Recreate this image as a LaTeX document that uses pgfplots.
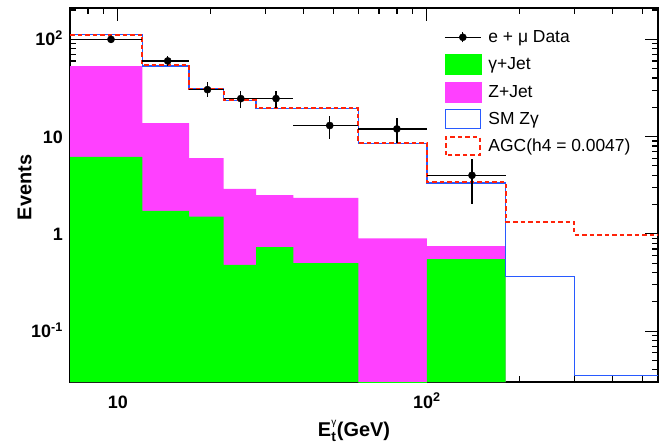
\documentclass[border=0pt]{standalone}
\usepackage{fontspec}
\setmainfont{Liberation Sans}
\usepackage{pgfplots}
\pgfplotsset{compat=1.18}

\definecolor{zjet}{RGB}{255,64,255}
\definecolor{gjet}{RGB}{0,255,0}
\definecolor{smblue}{RGB}{40,90,255}
\definecolor{agcred}{RGB}{255,35,10}

\begin{document}
\begin{tikzpicture}
\useasboundingbox (-70bp,-65bp) rectangle (594bp,382bp);
\begin{axis}[
    scale only axis,
    width=588bp, height=374bp,
    xmode=log, ymode=log,
    log origin y=infty,
    xmin=7, xmax=560,
    ymin=0.03, ymax=210,
    xtick={10,100},
    xticklabels={10,10\textsuperscript{2}},
    ytick={0.1,1,10,100},
    yticklabels={10\textsuperscript{-1},1,10,10\textsuperscript{2}},
    minor xtick={8,9,20,30,40,50,60,70,80,90,200,300,400,500},
    minor ytick={0.03,0.04,0.05,0.06,0.07,0.08,0.09,0.2,0.3,0.4,0.5,0.6,0.7,0.8,0.9,2,3,4,5,6,7,8,9,20,30,40,50,60,70,80,90,200},
    tick label style={font=\bfseries\fontsize{18}{18}\selectfont},
    xticklabel style={inner sep=0pt, text height=13bp, text depth=0pt, yshift=-13bp},
    yticklabel style={inner sep=0pt, text height=13bp, text depth=0pt, xshift=-7bp},
    major tick length=13bp, minor tick length=6bp,
    every tick/.style={black, line width=1.2bp},
    axis line style={line width=1.6bp},
    xlabel={E\rlap{\raisebox{11bp}{\fontsize{10}{10}\selectfont\mdseries γ}}\raisebox{-5bp}{\fontsize{14}{14}\selectfont t}\kern1bp(GeV)},
    ylabel={Events},
    every axis x label/.style={at={(axis description cs:0.483,-0.147)}, anchor=base,
        font=\bfseries\fontsize{20}{20}\selectfont},
    every axis y label/.style={at={(axis description cs:-0.077,0.52)}, rotate=90, anchor=center,
        font=\bfseries\fontsize{20}{20}\selectfont},
    legend cell align=left,
    legend style={
        at={(axis description cs:0.636,0.949)}, anchor=north west,
        draw=none, fill=none, inner sep=0pt,
        row sep=7bp,
        font=\fontsize{17.5}{20}\selectfont,
        nodes={inner sep=0pt},
        /tikz/every odd column/.append style={column sep=7bp},
    },
]

% Z+Jet (stacked total)
\addplot[const plot, fill=zjet, draw=none, forget plot] coordinates {
    (7,53) (12,13.8) (17,6.0) (22,2.9) (28,2.5) (37,2.35) (60,0.90) (100,0.75) (180,0.75)
} \closedcycle;

% gamma+Jet
\addplot[const plot, fill=gjet, draw=none, forget plot] coordinates {
    (7,6.2) (12,1.72) (17,1.5) (22,0.48) (28,0.73) (37,0.50) (60,0.001) (100,0.55) (180,0.55)
} \closedcycle;

% SM Z gamma
\addplot[const plot, smblue, line width=1.5bp, forget plot] coordinates {
    (7,112) (12,53) (17,31) (22,23.6) (28,19.4) (60,8.5) (100,3.33) (180,0.364) (300,0.035) (600,0.035)
};

% AGC h4 = 0.0047
\addplot[const plot, agcred, line width=2bp, dash pattern=on 4.5bp off 3bp, forget plot] coordinates {
    (7,112) (12,54) (17,31) (22,23.6) (28,19.5) (60,8.6) (100,3.4) (180,1.34) (300,0.98) (600,0.98)
};

% data
\addplot[black, only marks, mark=*, mark size=3.6bp, forget plot,
    error bars/.cd, x dir=both, x explicit, y dir=both, y explicit,
    error mark=none, error bar style={line width=1.3bp}] coordinates {
    (9.5,100)  += (2.5,8)    -= (2.5,8)
    (14.5,60)  += (2.5,7)    -= (2.5,7)
    (19.5,30.4) += (2.5,5.6) -= (2.5,4.9)
    (25,24.6)  += (3,4.8)    -= (3,4.7)
    (32.5,24.6) += (4.5,4.8) -= (4.5,4.7)
    (48.5,13)  += (11.5,3.4) -= (11.5,3.6)
    (80,12)    += (20,3.5)   -= (20,3.45)
    (140,4)    += (40,1.9)   -= (40,1.97)
};

\addlegendimage{legend image code/.code={
    \path[draw=none, fill=none] (0bp,-10bp) rectangle (36bp,10bp);
    \draw[black, line width=1.3bp] (0bp,0bp) -- (36bp,0bp) (18bp,-5bp) -- (18bp,5bp);
    \fill[black] (18bp,0bp) circle (3.6bp);}}
\addlegendentry{e + μ Data}
\addlegendimage{legend image code/.code={
    \fill[gjet] (0bp,-10bp) rectangle (36bp,10bp);}}
\addlegendentry{γ+Jet}
\addlegendimage{legend image code/.code={
    \fill[zjet] (0bp,-10bp) rectangle (36bp,10bp);}}
\addlegendentry{Z+Jet}
\addlegendimage{legend image code/.code={
    \draw[smblue, line width=1.2bp] (0.6bp,-9.4bp) rectangle (35.4bp,9.4bp);}}
\addlegendentry{SM Zγ}
\addlegendimage{legend image code/.code={
    \draw[agcred, line width=2bp, dash pattern=on 4.5bp off 3bp] (1bp,-9bp) rectangle (35bp,9bp);}}
\addlegendentry{AGC(h4 = 0.0047)}

\end{axis}
\end{tikzpicture}
\end{document}
